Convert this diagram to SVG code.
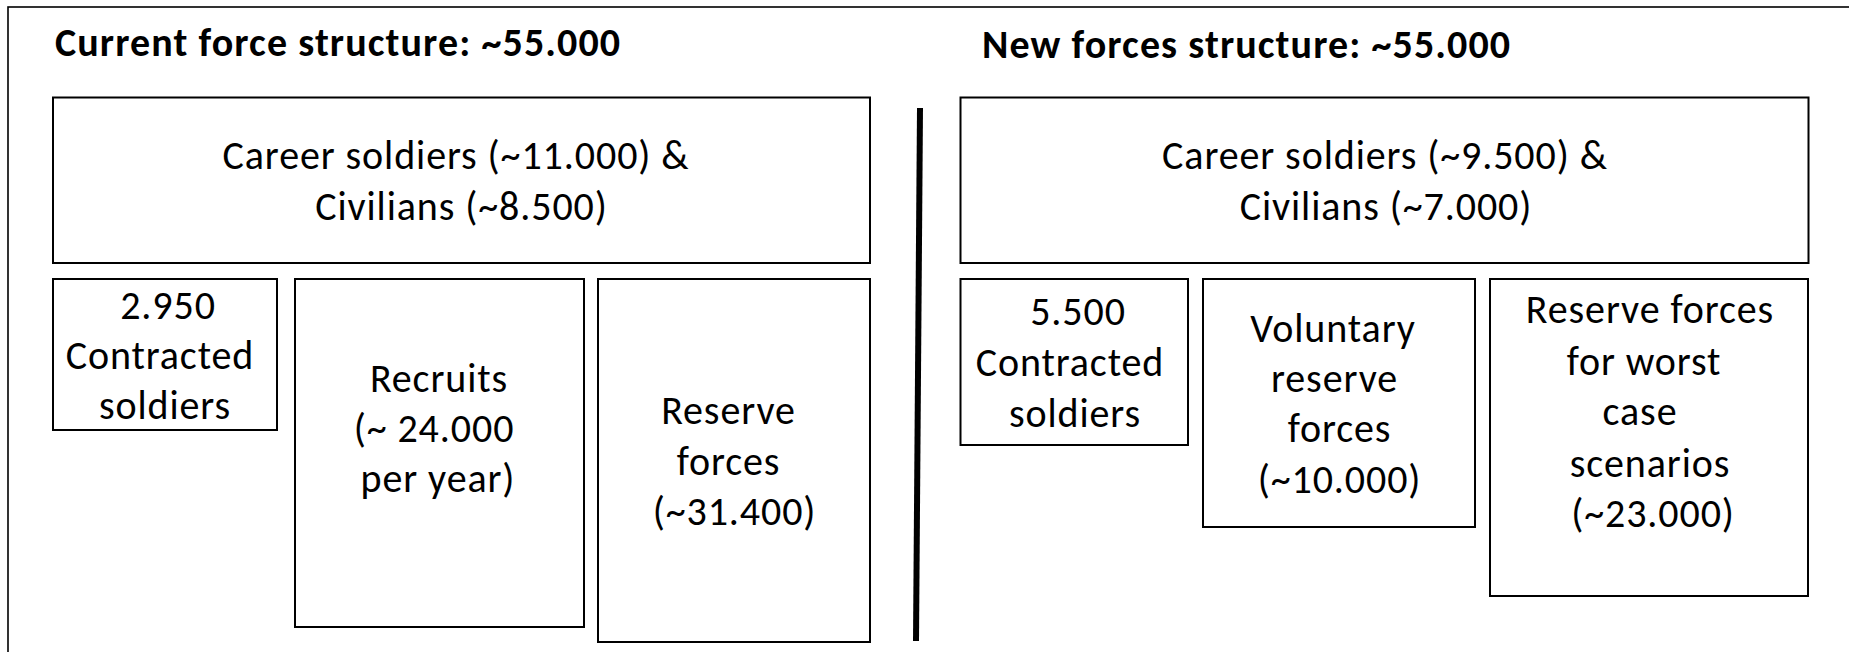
<svg xmlns="http://www.w3.org/2000/svg" width="1849" height="652" viewBox="0 0 1849 652">
<style>
.box{fill:#ffffff;stroke:#000000;stroke-width:2}
.t{font-family:Carlito,Lato,"Liberation Sans",sans-serif;font-size:40px;letter-spacing:0.9px;fill:#000000;text-anchor:middle}
.h{font-family:Carlito,Lato,"Liberation Sans",sans-serif;font-size:40px;letter-spacing:1.1px;font-weight:bold;fill:#000000}
</style>
<rect x="0" y="0" width="1849" height="652" fill="#ffffff"/>
<rect id="frame" x="8" y="7" width="1900" height="700" fill="none" stroke="#000000" stroke-width="1.6"/>
<g id="titles">
<text class="h" x="55" y="56">Current force structure: ~55.000</text>
<text class="h" x="982" y="58">New forces structure: ~55.000</text>
</g>
<g id="connectors">
<line x1="920" y1="108" x2="916" y2="641" stroke="#000000" stroke-width="6"/>
</g>
<g id="cur-career">
<rect class="box" x="53" y="97.5" width="817" height="165.5"/>
<text class="t" x="456" y="169">Career soldiers (~11.000) &amp;</text>
<text class="t" x="461.5" y="220">Civilians (~8.500)</text>
</g>
<g id="cur-contracted">
<rect class="box" x="53" y="279" width="224" height="151"/>
<text class="t" x="168" y="319">2.950</text>
<text class="t" x="160" y="369">Contracted</text>
<text class="t" x="165" y="419">soldiers</text>
</g>
<g id="cur-recruits">
<rect class="box" x="295" y="279" width="289" height="348"/>
<text class="t" x="439" y="392">Recruits</text>
<text class="t" x="434" y="442">(~ 24.000</text>
<text class="t" x="438" y="492">per year)</text>
</g>
<g id="cur-reserve">
<rect class="box" x="598" y="279" width="272" height="363"/>
<text class="t" x="728.5" y="424">Reserve</text>
<text class="t" x="728.5" y="474.5">forces</text>
<text class="t" x="734.5" y="525">(~31.400)</text>
</g>
<g id="new-career">
<rect class="box" x="960.5" y="97.5" width="848" height="165.5"/>
<text class="t" x="1385" y="169">Career soldiers (~9.500) &amp;</text>
<text class="t" x="1386" y="220">Civilians (~7.000)</text>
</g>
<g id="new-contracted">
<rect class="box" x="960.5" y="279" width="227.5" height="166"/>
<text class="t" x="1078" y="325">5.500</text>
<text class="t" x="1070" y="376">Contracted</text>
<text class="t" x="1075" y="427">soldiers</text>
</g>
<g id="new-voluntary">
<rect class="box" x="1203" y="279" width="272" height="248"/>
<text class="t" x="1333" y="342">Voluntary</text>
<text class="t" x="1334.5" y="392">reserve</text>
<text class="t" x="1339.5" y="442">forces</text>
<text class="t" x="1339.5" y="493">(~10.000)</text>
</g>
<g id="new-worst-case">
<rect class="box" x="1490" y="279" width="318" height="317"/>
<text class="t" x="1650" y="323">Reserve forces</text>
<text class="t" x="1644" y="375">for worst</text>
<text class="t" x="1640" y="425">case</text>
<text class="t" x="1650" y="477">scenarios</text>
<text class="t" x="1653" y="527">(~23.000)</text>
</g>
</svg>
